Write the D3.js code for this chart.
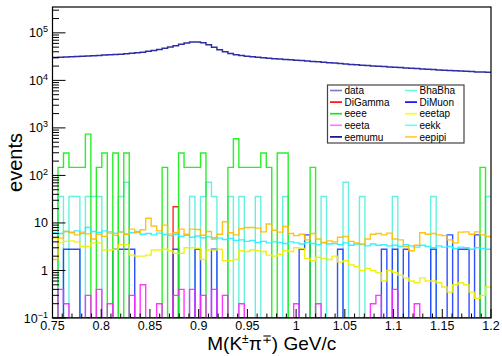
<!DOCTYPE html>
<html><head><meta charset="utf-8">
<script src="https://cdnjs.cloudflare.com/ajax/libs/d3/7.8.5/d3.min.js"></script>
<style>
body{margin:0;background:#fff;}
text{font-family:"Liberation Sans",Arial,Helvetica,sans-serif;}
</style></head>
<body><svg id="c" width="502" height="356"></svg>
<script>
// ---- data (80 bins, 0.75 - 1.2) ----
const xMin = 0.75, xMax = 1.2, nBins = 80;
const dataVals = [30400,30800,31100,31500,31900,32300,32700,33100,33500,34000,
  34500,35000,35600,36300,37100,38100,39300,40800,42600,44700,
  47300,50300,53800,57600,61200,63900,64500,61800,56300,49900,
  44200,39900,36900,34800,33300,32200,31300,30500,29800,29200,
  28600,28100,27600,27100,26600,26100,25600,25100,24600,24100,
  23600,23100,22600,22100,21700,21300,20900,20500,20100,19800,
  19500,19200,18900,18600,18300,18000,17700,17400,17100,16900,
  16600,16400,16200,15900,15700,15500,15300,15100,15000,14900];
const eeee = [0,148,296,148,148,148,740,0,148,296,
  0,296,0,296,0,0,0,0,0,0,
  148,0,0,296,148,148,148,296,0,0,
  0,0,148,592,148,148,148,148,296,148,
  0,296,296,0,0,0,0,148,0,0,
  0,0,0,0,0,0,0,0,0,0,
  0,0,0,0,0,0,0,0,0,0,
  0,0,0,0,0,0,0,0,148,0];
const bhabha = [0,36,0,36,36,0,36,36,36,0,
  0,0,36,72,0,0,0,0,0,0,
  0,0,0,0,0,36,0,36,72,36,
  0,0,36,0,36,0,0,36,0,0,
  0,0,36,0,0,0,0,0,0,36,
  0,0,0,72,0,0,36,0,0,0,
  0,0,36,0,0,0,0,0,0,36,
  0,0,0,0,0,0,0,0,0,36];
const digamma = [0,0,0,0,0,0,0,0,0,0,
  0,0,0,0,0,0,0,0,0,0,
  0,0,22,0,0,0,0,0,0,0,
  0,0,0,0,0,0,0,0,0,0,
  0,0,0,0,0,0,0,0,0,0,
  0,0,0,0,0,0,0,0,0,0,
  0,0,0,0,0,0,0,0,0,0,
  0,0,0,0,0,0,0,0,0,0];
const dimuon = [0,0,2.8,2.8,2.8,0,0,0,0,0,
  0,2.8,2.8,2.8,2.8,0,0,0,0,0,
  0,0,2.8,0,0,0,2.8,0,0,2.8,
  0,0,0,0,0,0,0,0,0,0,
  0,0,0,0,0,2.8,5.6,0,0,0,
  0,0,2.8,0,0,0,0,0,0,0,
  2.8,0,2.8,0,2.8,0,0,0,0,2.8,
  0,0,5.6,0,2.8,2.8,0,5.6,0,0];
const eeeta = [0,0.4,0.2,0,0,0,0.3,0,0.4,0,
  0.2,0,0,0,0.3,0,0.5,0,0,0.2,
  0,0,0.3,0.4,0,0.4,0,0.3,0,0.4,
  0,0.3,0,0,0.2,0,0,0,0,0,
  0,0,0,0,0.2,0,0,0,0.2,0,
  0,0,0,0,0,0,0,0,0.2,0.3,
  0,0,0.4,0,0,0,0.2,0,0,0,
  0,0,0,0,0,0,0,0,0,0];
const eeetap = [4.8,3.8,4.1,4.2,4.0,3.2,3.2,3.8,3.8,2.7,
  2.7,2.8,3.5,3.5,2.1,2.0,2.0,2.1,2.7,2.7,
  2.8,2.6,2.3,2.3,3.0,3.0,2.9,1.7,2.7,2.7,
  2.8,1.6,1.6,1.7,2.6,2.5,2.7,2.6,2.5,2.1,
  2.0,2.2,2.6,2.5,3.0,2.9,1.8,1.6,1.9,1.8,
  1.7,2.0,1.5,1.6,1.3,1.2,1.0,1.1,1.0,0.9,
  0.6,1.0,0.9,0.8,0.7,0.6,0.55,0.7,0.6,0.6,
  0.55,0.45,0.35,0.5,0.55,0.5,0.35,0.26,0.3,0.45];
const eekk = [6.2,6.0,6.6,6.4,6.8,6.0,8.0,6.6,6.3,6.8,
  6.5,6.1,6.4,5.9,6.2,6.6,5.8,6.0,5.6,6.1,
  5.7,5.4,5.8,5.2,5.5,5.0,5.3,4.9,5.1,4.6,
  4.8,4.5,4.7,4.3,4.4,4.1,4.3,3.9,4.1,3.8,
  4.0,3.9,3.7,4.0,3.8,3.6,3.9,3.7,3.5,3.8,
  3.6,3.7,3.5,3.8,3.4,3.6,3.5,3.3,3.6,3.4,
  3.5,3.3,3.4,3.2,3.5,3.3,3.1,3.4,3.2,3.0,
  3.3,3.1,3.2,2.9,3.1,3.0,2.8,3.0,2.9,2.8];
const eemumu = [0,0,0,0,0,0,0,0,0,0,0,0,0,0,0,0,0,0,0,0,
  0,0,0,0,0,0,0,0,0,0,0,0,0,0,0,0,0,0,0,0,
  0,0,0,0,0,0,0,0,0,0,0,0,0,0,0,0,0,0,0,0,
  0,0,0,0,0,0,0,0,0,0,0,0,0,0,0,0,0,0,0,0];
const eepipi = [1.7,4.8,6.6,6.2,5.6,6.4,5.9,4.6,5.8,5.2,
  6.1,5.5,6.5,5.7,7.4,6.3,7.2,12.6,8.6,6.8,
  9.0,5.9,6.3,7.4,5.8,7.4,7.3,5.5,6.6,4.9,
  5.8,10.6,6.2,5.6,7.6,8.0,8.0,7.8,6.5,9.5,
  7.0,6.4,8.4,6.0,5.4,5.8,4.4,6.0,4.6,3.9,
  4.2,4.0,5.0,5.2,4.1,3.8,3.6,4.6,5.8,6.0,
  5.6,6.1,4.6,4.4,3.2,2.6,3.4,6.2,5.8,6.0,
  5.6,5.4,4.4,3.8,6.4,6.5,5.8,6.5,5.6,5.2];
const xTicks = [0.75,0.8,0.85,0.9,0.95,1,1.05,1.1,1.15,1.2];
const xTickLabels = ["0.75","0.8","0.85","0.9","0.95","1","1.05","1.1","1.15","1.2"];
const yTicks = [0.1,1,10,100,1000,10000,100000];
const yTickBase = ["10","1","10","10","10","10","10"];
const yTickExp = ["\u22121","","","2","3","4","5"];
const legendNames = ["data","BhaBha","DiGamma","DiMuon","eeee","eeetap","eeeta","eekk","eemumu","eepipi"];

const series = {
  data:{vals:dataVals,color:"#16169a",w:1.5},
  BhaBha:{vals:bhabha,color:"#55eedd",w:1.4},
  DiGamma:{vals:digamma,color:"#ff1010",w:1.4},
  DiMuon:{vals:dimuon,color:"#1a3cff",w:1.4},
  eeee:{vals:eeee,color:"#11ee11",w:1.4},
  eeetap:{vals:eeetap,color:"#eeee00",w:1.4},
  eekk:{vals:eekk,color:"#22eeff",w:1.4},
  eemumu:{vals:eemumu,color:"#000080",w:1.4},
  eepipi:{vals:eepipi,color:"#ffbb00",w:1.4},
  eeeta:{vals:eeeta,color:"#ff22ff",w:1.4}
};
const legendColors = {data:"#7878cc",BhaBha:"#66ffdd",DiGamma:"#ff0000",DiMuon:"#0000ff",
  eeee:"#00ee00",eeetap:"#ffff00",eeeta:"#ff77ff",eekk:"#66ffff",eemumu:"#000080",eepipi:"#ffcc33"};
const drawOrder = ["data","BhaBha","DiGamma","DiMuon","eeee","eeetap","eekk","eemumu","eepipi","eeeta"];

// ---- layout ----
const L=52.5,R=491,T=7,B=318;
const svg=d3.select("#c");
const x=d3.scaleLinear().domain([xMin,xMax]).range([L,R]);
const y=d3.scaleLog().domain([0.1,3.5e5]).range([B,T]).clamp(true);
const bw=(xMax-xMin)/nBins;

svg.append("defs").append("clipPath").attr("id","clip")
  .append("rect").attr("x",L).attr("y",T).attr("width",R-L).attr("height",B-T);

const g=svg.append("g").attr("clip-path","url(#clip)");
const line=d3.line().curve(d3.curveStepAfter)
  .x(d=>x(d[0])).y(d=>d[1]>0?y(d[1]):y(0.1));
drawOrder.forEach(name=>{
  const s=series[name];
  const pts=s.vals.map((v,i)=>[xMin+i*bw,v]);
  pts.push([xMax,s.vals[s.vals.length-1]]);
  g.append("path").attr("d",line(pts)).attr("fill","none")
   .attr("stroke",s.color).attr("stroke-width",s.w).attr("stroke-opacity",0.9);
});

// ---- frame & ticks ----
const ax=svg.append("g").attr("stroke","#000").attr("stroke-width",1);
// x ticks
const xMinor=d3.range(0,46).map(k=>xMin+k*0.01);
xMinor.forEach((v,k)=>{
  const major=(k%5===0);
  ax.append("line").attr("x1",x(v)).attr("x2",x(v)).attr("y1",B).attr("y2",B-(major?9:4.5));
});
// y ticks
for(let e=-1;e<=5;e++){
  for(let m=1;m<=9;m++){
    const v=m*Math.pow(10,e);
    if(v>3.5e5) continue;
    const yy=y(v);
    ax.append("line").attr("x1",L).attr("x2",L+(m===1?13:6.5)).attr("y1",yy).attr("y2",yy);
  }
}
svg.append("rect").attr("x",L).attr("y",T).attr("width",R-L).attr("height",B-T)
  .attr("fill","none").attr("stroke","#000").attr("stroke-width",1.2);

// x tick labels
xTicks.forEach((v,i)=>{
  svg.append("text").attr("x",x(v)).attr("y",330).attr("text-anchor","middle")
    .attr("font-size",12.5).attr("fill","#000").text(xTickLabels[i]);
});
// y tick labels
yTicks.forEach((v,i)=>{
  const t=svg.append("text").attr("x",48).attr("y",y(v)+4.5).attr("text-anchor","end")
    .attr("font-size",12.5).attr("fill","#000");
  t.append("tspan").text(yTickBase[i]);
  if(yTickExp[i]) t.append("tspan").attr("dy",-5).attr("font-size",9).text(yTickExp[i]);
});

// axis titles
const xt=svg.append("text").attr("x",(L+R)/2).attr("y",350).attr("text-anchor","middle")
  .attr("font-size",19).attr("fill","#000");
xt.append("tspan").text("M(K");
xt.append("tspan").attr("dy",-7).attr("font-size",12).text("\u00b1");
xt.append("tspan").attr("dy",7).text("\u03c0");
xt.append("tspan").attr("dy",-7).attr("font-size",12).text("\u2213");
xt.append("tspan").attr("dy",7).text(") GeV/c");
svg.append("text").attr("transform",`translate(22,${(T+B)/2}) rotate(-90)`)
  .attr("text-anchor","middle").attr("font-size",20).attr("fill","#000").text("events");

// legend
const lg=svg.append("g");
lg.append("rect").attr("x",327.5).attr("y",85).attr("width",136.5).attr("height",58)
  .attr("fill","#fff").attr("stroke","#444").attr("stroke-width",1.2);
legendNames.forEach((n,i)=>{
  const col=i%2,row=Math.floor(i/2);
  const lx=col===0?330:405, ly=90.5+row*11.6;
  lg.append("line").attr("x1",lx).attr("x2",lx+12).attr("y1",ly).attr("y2",ly)
    .attr("stroke",legendColors[n]).attr("stroke-width",1.6);
  lg.append("text").attr("x",lx+14.5).attr("y",ly+3.6).attr("font-size",10).attr("fill","#000").text(n);
});
</script></body></html>
